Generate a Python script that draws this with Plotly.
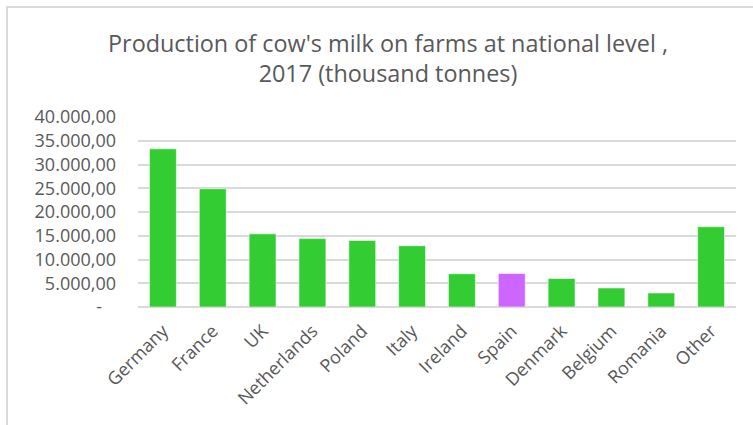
import plotly.graph_objects as go

# Cow's milk production on farms, 2017 (thousand tonnes)
countries = ["Germany", "France", "UK", "Netherlands", "Poland", "Italy",
             "Ireland", "Spain", "Denmark", "Belgium", "Romania", "Other"]
production = [33300, 24900, 15400, 14400, 14000, 12900,
              7000, 7050, 6000, 4000, 2950, 16900]
highlight = "Spain"

y_ticks = [0, 5000, 10000, 15000, 20000, 25000, 30000, 35000, 40000]


def fmt_eu(v):
    # accounting-style label: thousands with '.', decimals with ',', zero as dash
    if v == 0:
        return "-\u00a0\u00a0\u00a0"
    s = f"{v:,.2f}"
    return s.replace(",", "X").replace(".", ",").replace("X", ".")


GREEN = "#33CC33"
PURPLE = "#CC66FF"
TEXT = "#595959"
GRID = "#D9D9D9"

colors = [PURPLE if c == highlight else GREEN for c in countries]

fig = go.Figure(
    go.Bar(
        x=countries,
        y=production,
        marker=dict(color=colors, line=dict(color="rgba(255,255,255,0.55)", width=1)),
        hoverinfo="x+y",
    )
)

W, H = 753, 425
L, R, T, B = 138, 17, 117, 118
pw, ph = W - L - R, H - T - B


def px_x(p):
    return (p - L) / pw


def px_y(p):
    return (H - B - p) / ph


fig.update_layout(
    width=W,
    height=H,
    margin=dict(l=L, r=R, t=T, b=B),
    paper_bgcolor="white",
    plot_bgcolor="white",
    showlegend=False,
    bargap=0.46,
    font=dict(family="Open Sans", color=TEXT),
    title=dict(
        text="Production of cow's milk on farms at national level ,<br>2017 (thousand tonnes)",
        x=388 / W,
        xanchor="center",
        xref="container",
        y=1 - 52 / H,
        yanchor="top",
        yref="container",
        font=dict(family="Open Sans", size=23.4, color=TEXT),
    ),
    xaxis=dict(
        tickangle=-45,
        tickfont=dict(size=18, color=TEXT),
        showgrid=False,
        showline=False,
        ticks="",
        ticklabelstandoff=9,
    ),
    yaxis=dict(
        range=[0, 40000],
        tickvals=y_ticks,
        ticktext=[fmt_eu(v) for v in y_ticks],
        tickfont=dict(size=18, color=TEXT),
        showgrid=True,
        gridcolor=GRID,
        gridwidth=2,
        zeroline=True,
        zerolinecolor=GRID,
        zerolinewidth=2,
        showline=False,
        ticks="",
        ticklabelstandoff=21,
    ),
    shapes=[
        # chart-area frame
        dict(
            type="rect",
            xref="paper",
            yref="paper",
            x0=px_x(7),
            x1=px_x(W + 10),
            y0=px_y(H + 10),
            y1=px_y(7),
            line=dict(color=GRID, width=2),
            fillcolor="rgba(0,0,0,0)",
            layer="below",
        )
    ],
)

fig.write_html("out.html")
